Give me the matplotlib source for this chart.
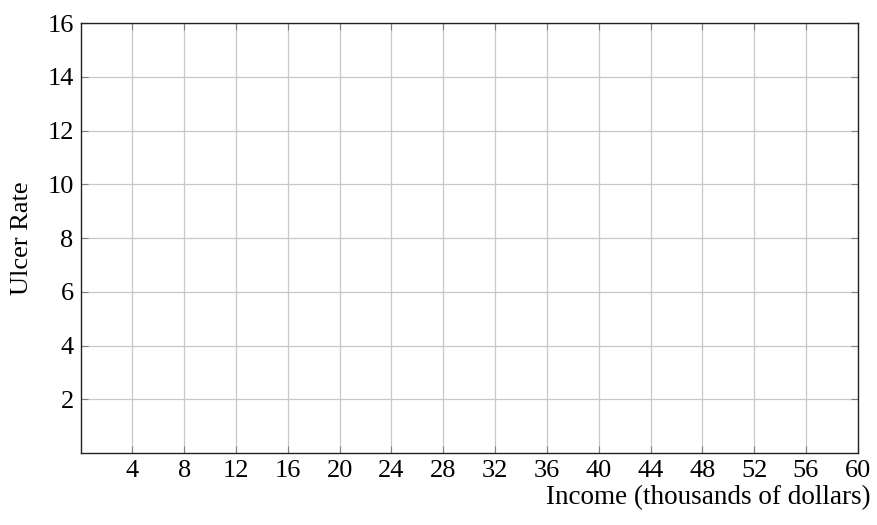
import numpy as np
import matplotlib.pyplot as plt

# 坐标轴刻度（图中没有数据点，只有网格）
x_ticks = [4, 8, 12, 16, 20, 24, 28, 32, 36, 40, 44, 48, 52, 56, 60]
y_ticks = [2, 4, 6, 8, 10, 12, 14, 16]
x_label = 'Income (thousands of dollars)'
y_label = 'Ulcer Rate'

plt.rcParams['font.family'] = ['Liberation Serif', 'DejaVu Serif']

fig = plt.figure(figsize=(8.77, 5.25), dpi=100)
ax = fig.add_axes([0.092, 0.137, 0.886, 0.819])

ax.set_xlim(0, 60)
ax.set_ylim(0, 16)
ax.set_xticks(x_ticks)
ax.set_yticks(y_ticks)
ax.tick_params(direction='in', length=5, width=0.8, color='#808080',
               top=True, right=True, labelsize=19, pad=5)
ax.grid(True, color='#c8c8c8', linewidth=0.9)
ax.set_axisbelow(True)
for s in ax.spines.values():
    s.set_linewidth(1.0)
    s.set_color('#222222')

ax.set_ylabel(y_label, fontsize=19, va='center')
ax.yaxis.set_label_coords(-0.0755, 0.5)
ax.set_xlabel(x_label, fontsize=19.5)
ax.xaxis.set_label_coords(1.017, -0.104)
ax.xaxis.label.set_horizontalalignment('right')
ax.xaxis.label.set_verticalalignment('center')

fig.savefig('out.png', dpi=100)
